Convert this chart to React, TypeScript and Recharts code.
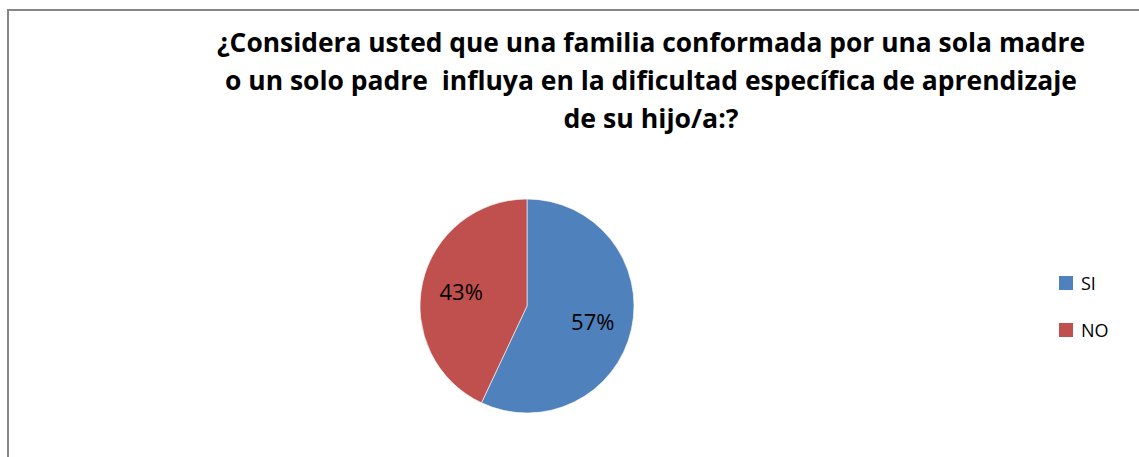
import React from 'react';
import { PieChart, Pie, Cell, Legend } from 'recharts';

const categories = ['SI', 'NO'];
const values = [57, 43];
const colors = ['#4F81BD', '#C0504D'];
const titleLines = [
  '¿Considera usted que una familia conformada por una sola madre',
  'o un solo padre  influya en la dificultad específica de aprendizaje',
  'de su hijo/a:?',
];
const titleCenterX = 651;
const titleBaselines = [52, 90, 128];
const titleWidths = [868, 852, 175];

const data = categories.map((name, i) => ({ name, value: values[i] }));

const RADIAN = Math.PI / 180;

const renderLabel = (props: any) => {
  const { cx, cy, midAngle, outerRadius, percent } = props;
  const r = outerRadius * 0.63;
  const x = cx + r * Math.cos(-midAngle * RADIAN);
  const y = cy + r * Math.sin(-midAngle * RADIAN);
  return (
    <text
      x={x}
      y={y}
      textAnchor="middle"
      dominantBaseline="central"
      fontSize={22}
      fontFamily="'Open Sans', sans-serif"
      fill="#000"
    >
      {`${Math.round(percent * 100)}%`}
    </text>
  );
};

const renderLegend = (props: any) => {
  const payload = [...(props.payload || [])].sort(
    (a: any, b: any) => categories.indexOf(a.value) - categories.indexOf(b.value)
  );
  return (
    <div>
      {payload.map((entry: any, i: number) => (
        <div
          key={i}
          style={{ display: 'flex', alignItems: 'center', height: 47 }}
        >
          <div
            style={{ width: 14, height: 14, background: entry.color, marginRight: 8 }}
          />
          <span
            style={{ fontFamily: "'Open Sans', sans-serif", fontSize: 18, color: '#000', lineHeight: '18px' }}
          >
            {entry.value}
          </span>
        </div>
      ))}
    </div>
  );
};

export default function App() {
  return (
    <div
      style={{
        position: 'absolute',
        left: 0,
        top: 0,
        width: 1139,
        height: 457,
        overflow: 'hidden',
        background: '#fff',
      }}
    >
      <div
        style={{
          position: 'absolute',
          left: 7,
          top: 9,
          width: 1200,
          height: 500,
          borderLeft: '2px solid #878787',
          borderTop: '2px solid #878787',
        }}
      />
      <div style={{ position: 'absolute', left: 0, top: 0 }}>
        <PieChart width={1139} height={457} margin={{ top: 0, right: 0, bottom: 0, left: 0 }}>
          {titleLines.map((line, i) => (
            <text
              key={i}
              x={titleCenterX}
              y={titleBaselines[i]}
              textAnchor="middle"
              fontSize={27}
              fontWeight="bold"
              fontFamily="'Open Sans', sans-serif"
              fill="#000"
              textLength={titleWidths[i]}
              lengthAdjust="spacingAndGlyphs"
              style={{ whiteSpace: 'pre' }}
            >
              {line}
            </text>
          ))}
          <Pie
            data={data}
            dataKey="value"
            nameKey="name"
            cx={527}
            cy={306}
            outerRadius={107}
            startAngle={90}
            endAngle={-270}
            stroke="#ffffff"
            strokeWidth={0.6}
            label={renderLabel}
            labelLine={false}
            isAnimationActive={false}
          >
            {data.map((d, i) => (
              <Cell key={d.name} fill={colors[i]} />
            ))}
          </Pie>
          <Legend
            layout="vertical"
            align="right"
            verticalAlign="top"
            itemSorter={null as any}
            content={renderLegend}
            wrapperStyle={{ left: 1059, top: 259, right: 'auto', width: 80 }}
          />
        </PieChart>
      </div>
    </div>
  );
}
